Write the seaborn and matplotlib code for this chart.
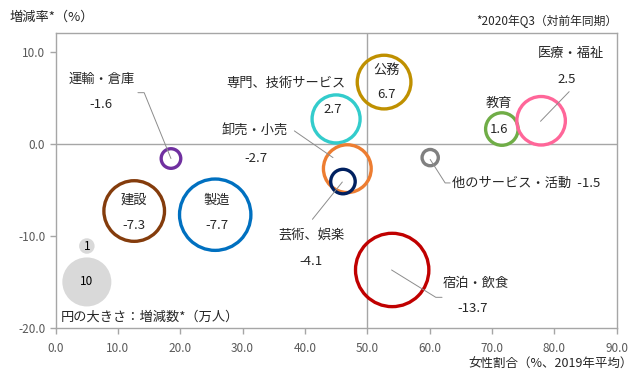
import pandas as pd
import matplotlib.pyplot as plt
import seaborn as sns

# data
industries = ['運輸・倉庫', '建設', '製造', '専門、技術サービス', '公務', '教育',
              '医療・福祉', '他のサービス・活動', '卸売・小売', '芸術、娯楽', '宿泊・飲食']
female_share = [18.5, 12.6, 25.6, 45.0, 52.7, 71.6, 77.9, 60.1, 46.8, 46.1, 54.0]
change_rate = [-1.6, -7.3, -7.7, 2.7, 6.7, 1.6, 2.5, -1.5, -2.7, -4.1, -13.7]
change_count = [1.6, 15.3, 21.2, 9.6, 12.0, 4.4, 9.8, 1.1, 9.5, 2.5, 22.4]
colors = ['#7030A0', '#843C0C', '#0070C0', '#33CCCC', '#BF9000', '#70AD47',
          '#FF6699', '#808080', '#ED7D31', '#002060', '#C00000']

legend_counts = [1, 10]
legend_x = [5.0, 5.0]
legend_y = [-11.1, -15.0]

# label layout: (name x, name y, value x, value y)
label_pos = {
    '運輸・倉庫': (7.3, 7.0, 7.3, 4.25),
    '建設': (12.6, -6.1, 12.6, -8.85),
    '製造': (25.8, -6.1, 25.8, -8.85),
    '専門、技術サービス': (36.9, 6.56, 44.5, 3.7),
    '公務': (53.1, 8.0, 53.1, 5.3),
    '教育': (71.2, 4.33, 71.2, 1.55),
    '医療・福祉': (82.6, 9.85, 82.0, 6.96),
    '卸売・小売': (32.0, 1.32, 32.2, -1.56),
    '芸術、娯楽': (41.1, -10.0, 41.0, -12.8),
    '宿泊・飲食': (67.4, -15.2, 66.9, -17.9),
}
leaders = [
    [(13.2, 5.55), (14.2, 5.55), (18.5, -1.6)],
    [(82.4, 5.66), (77.8, 2.44)],
    [(38.3, 1.4), (44.5, -1.5)],
    [(41.2, -8.2), (46.0, -4.15)],
    [(53.9, -13.7), (61.0, -16.67), (62.0, -16.67)],
    [(60.1, -1.7), (62.5, -4.25), (63.3, -4.25)],
]


def main():
    sns.set_style('white')
    plt.rcParams['font.family'] = ['Noto Sans CJK JP', 'DejaVu Sans']

    df = pd.DataFrame({'industry': industries, 'female': female_share,
                       'rate': change_rate, 'count': change_count})
    leg = pd.DataFrame({'x': legend_x, 'y': legend_y, 'count': legend_counts})

    fig = plt.figure(figsize=(6.43, 3.78), dpi=100)
    ax = fig.add_axes([0.0866, 0.1323, 0.8722, 0.7797])

    size_args = dict(size='count', sizes=(0, 124.5 * 30), size_norm=(0, 30), legend=False)

    # legend bubbles (filled gray)
    sns.scatterplot(data=leg, x='x', y='y', color='#D9D9D9', linewidth=0, ax=ax, **size_args)
    for xx, yy, n in zip(legend_x, legend_y, legend_counts):
        ax.text(xx, yy, str(n), ha='center', va='center', fontsize=8.5, color='black')

    # industry rings
    sns.scatterplot(data=df, x='female', y='rate', hue='industry', palette=colors,
                    ax=ax, **size_args)
    coll = ax.collections[-1]
    fc = coll.get_facecolors()
    coll.set_edgecolors(fc)
    coll.set_facecolors('none')
    coll.set_linewidth(2.4)

    # quadrant lines
    ax.axvline(50, color='#A6A6A6', lw=1, zorder=0)
    ax.axhline(0, color='#A6A6A6', lw=1, zorder=0)

    # leader lines
    for pts in leaders:
        xs, ys = zip(*pts)
        ax.plot(xs, ys, color='#8C8C8C', lw=0.7, zorder=1)

    for name, val in zip(industries, change_rate):
        if name in label_pos:
            nx, ny, vx, vy = label_pos[name]
            ax.text(nx, ny, name, ha='center', va='center', fontsize=9.5)
            ax.text(vx, vy, f'{val:.1f}', ha='center', va='center', fontsize=9.5)
    ax.text(63.6, -4.33, f'他のサービス・活動  {change_rate[7]:.1f}', ha='left', va='center',
            fontsize=9.5)

    ax.text(0.8, -18.8, '円の大きさ：増減数*（万人）', ha='left', va='center', fontsize=9.5)

    ax.set_xlim(0, 90)
    ax.set_ylim(-20, 12)
    ax.set_xticks(range(0, 91, 10))
    ax.set_yticks([-20, -10, 0, 10])
    ax.set_xticklabels([f'{v:.1f}' for v in range(0, 91, 10)])
    ax.set_yticklabels([f'{v:.1f}' for v in [-20, -10, 0, 10]])
    ax.tick_params(axis='both', colors='#A6A6A6', labelcolor='#595959', labelsize=8.5,
                   length=4, width=1, direction='out', bottom=True, left=True)
    ax.tick_params(axis='x', pad=6)
    for sp in ax.spines.values():
        sp.set_color('#A6A6A6')
        sp.set_linewidth(1)
    ax.set_xlabel('')
    ax.set_ylabel('')

    fig.text(10 / 643, 1 - 17 / 378, '増減率*（%）', ha='left', va='center', fontsize=9.5)
    fig.text(617 / 643, 1 - 21.5 / 378, '*2020年Q3（対前年同期）', ha='right', va='center',
             fontsize=8.5)
    fig.text(633 / 643, 1 - 364 / 378, '女性割合（%、2019年平均）', ha='right', va='center',
             fontsize=9)

    fig.savefig('out.png', dpi=100)
    plt.close(fig)


if __name__ == "__main__":
    main()
